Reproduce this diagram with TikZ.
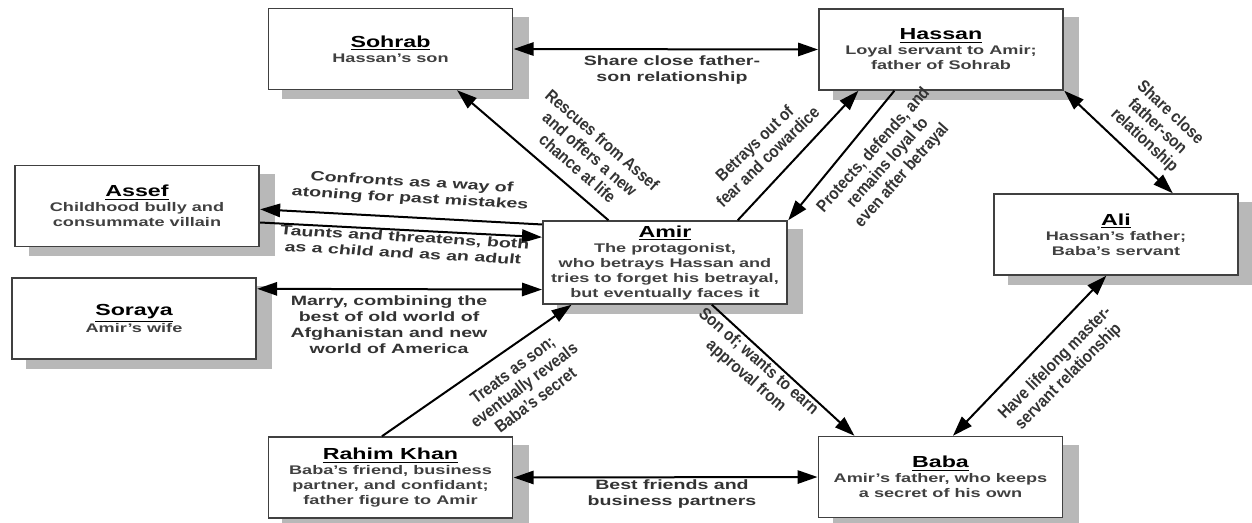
\documentclass[tikz,border=0pt]{standalone}
\usepackage{fontspec}
\setmainfont{Liberation Sans}
\usetikzlibrary{arrows.meta,calc,backgrounds}
\definecolor{shadowc}{gray}{0.72}
\newcommand\descfont{\fontsize{7.5pt}{9pt}\selectfont\bfseries}
\newcommand\lblfont{\fontsize{8.1pt}{9.6pt}\selectfont\bfseries}
\newcommand\rlblfont{\fontsize{10.2pt}{11.4pt}\selectfont\bfseries}
\newcommand\boxtitle[1]{{\fontsize{9.6pt}{9pt}\selectfont\color{black}\underline{#1}}}
\begin{document}
\begin{tikzpicture}[x=0.413793pt, y=-0.6pt, xscale=1.45, transform shape,
  box/.style={draw=black!75, line width=0.9pt, fill=white, minimum width=100.97pt,
    minimum height=48.6pt, inner sep=0pt, align=center, font=\descfont, text=black!75},
  lbl/.style={font=\lblfont, text=black!80, align=center, inner sep=0pt},
  rlbl/.style={font=\rlblfont, text=black!80, align=center, inner sep=0pt, xscale=0.689655},
  arr/.style={-{Triangle[length=12pt,width=8pt]}, line width=1.2pt, black},
  arrboth/.style={{Triangle[length=12pt,width=8pt]}-{Triangle[length=12pt,width=8pt]}, line width=1.2pt, black}]
\useasboundingbox (0,0) rectangle (1252,522);

% boxes
\node[box] (sohrab) at (390.5,49) {\boxtitle{Sohrab}\\Hassan's son};
\node[box] (hassan) at (941,49.5) {\boxtitle{Hassan}\\Loyal servant to Amir;\\father of Sohrab};
\node[box] (ali) at (1116,234.5) {\boxtitle{Ali}\\Hassan's father;\\Baba's servant};
\node[box] (assef) at (137,206) {\boxtitle{Assef}\\Childhood bully and\\consummate villain};
\node[box] (soraya) at (134,318.5) {\boxtitle{Soraya}\\Amir's wife};
\node[box, minimum height=49.8pt] (amir) at (665,262.5) {\boxtitle{Amir}\\The protagonist,\\who betrays Hassan and\\tries to forget his betrayal,\\but eventually faces it};
\node[box] (rahim) at (390.5,477.5) {\boxtitle{Rahim Khan}\\Baba's friend, business\\partner, and confidant;\\father figure to Amir};
\node[box] (baba) at (940.5,477) {\boxtitle{Baba}\\Amir's father, who keeps\\a secret of his own};

% background and shadows
\begin{scope}[on background layer]
\fill[white] (0,0) rectangle (1252,522);
\foreach \n in {sohrab,hassan,ali,assef,soraya,amir,rahim,baba}
  \fill[shadowc] ($(\n.south west)+(15,9)$) rectangle ($(\n.north east)+(15,9)$);
\end{scope}

% connectors
\draw[arrboth] (sohrab.east) -- (hassan.west);
\draw[arr] ($(amir.north west)!0.27!(amir.north east)$) -- ($(sohrab.south west)!0.77!(sohrab.south east)$);
\draw[arr] ($(amir.north west)!0.795!(amir.north east)$) -- ($(hassan.south west)!0.164!(hassan.south east)$);
\draw[arr] ($(hassan.south west)!0.31!(hassan.south east)$) -- (amir.north east);
\draw[arrboth] (hassan.south east) -- ($(ali.north west)!0.73!(ali.north east)$);
\draw[arr] ($(amir.north west)!0.05!(amir.south west)$) -- ($(assef.north east)!0.54!(assef.south east)$);
\draw[arr] ($(assef.north east)!0.70!(assef.south east)$) -- ($(amir.north west)!0.2!(amir.south west)$);
\draw[arrboth] ($(soraya.north east)!0.14!(soraya.south east)$) -- ($(amir.north west)!0.82!(amir.south west)$);
\draw[arr] ($(rahim.north west)!0.465!(rahim.north east)$) -- ($(amir.south west)!0.12!(amir.south east)$);
\draw[arr] ($(amir.south west)!0.69!(amir.south east)$) -- ($(baba.north west)!0.15!(baba.north east)$);
\draw[arrboth] ($(baba.north west)!0.55!(baba.north east)$) -- ($(ali.south west)!0.46!(ali.south east)$);
\draw[arrboth] (rahim.east) -- (baba.west);

% labels
\node[lbl] (l1) at (672,70) {Share close father-\\son relationship};
\node[rlbl, rotate=-41, xscale=0.88] (l2) at (590,154) {Rescues from Assef\\and offers a new\\chance at life};
\node[rlbl, rotate=44, xscale=0.88] (l3) at (761,150) {Betrays out of\\fear and cowardice};
\node[rlbl, rotate=48.5, xscale=0.88] (l4) at (888,163) {Protects, defends, and\\remains loyal to\\even after betrayal};
\node[rlbl, rotate=-43, xscale=0.88] (l5) at (1157,127) {Share close\\father-son\\relationship};
\node[lbl, rotate=-4.6] (l6) at (411,191) {Confronts as a way of\\atoning for past mistakes};
\node[lbl, rotate=-4.6] (l7) at (404,245) {Taunts and threatens, both\\as a child and as an adult};
\node[lbl] (l8) at (389,325) {Marry, combining the\\best of old world of\\Afghanistan and new\\world of America};
\node[rlbl, rotate=37, xscale=0.88] (l9) at (524,385) {Treats as son;\\eventually reveals\\Baba's secret};
\node[rlbl, rotate=-41, xscale=0.88] (l10) at (752,369) {Son of; wants to earn\\approval from};
\node[rlbl, rotate=45, xscale=0.88] (l11) at (1062,370) {Have lifelong master-\\servant relationship};
\node[lbl] (l12) at (672,494) {Best friends and\\business partners};
\end{tikzpicture}
\end{document}
